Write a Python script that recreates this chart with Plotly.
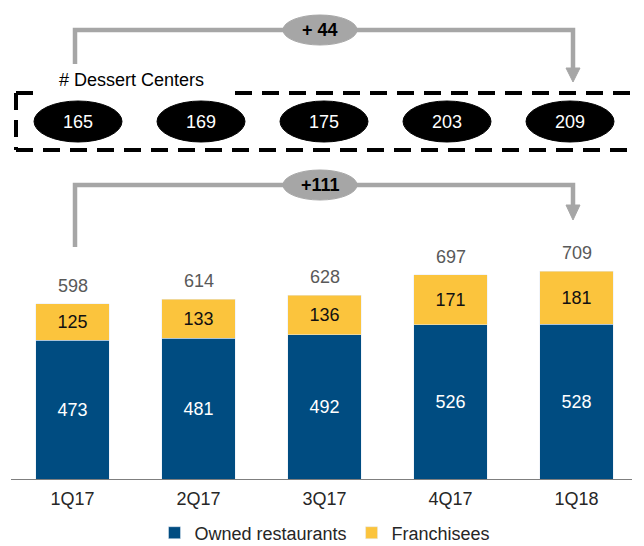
import plotly.graph_objects as go

quarters = ["1Q17", "2Q17", "3Q17", "4Q17", "1Q18"]
owned = [473, 481, 492, 526, 528]
franchisees = [125, 133, 136, 171, 181]
totals = [598, 614, 628, 697, 709]
dessert_centers = [165, 169, 175, 203, 209]
dessert_growth = "+ 44"
store_growth = "+111"

BLUE = "#004C81"
YELLOW = "#FBC43D"
GRAY = "#A6A6A6"
FONT = "Liberation Sans, Arial, sans-serif"

# page body adds an 8px margin; the figure is sized to fill the rest of the window
OFF = 8
W, H = 644 - OFF, 546 - OFF
# plot area in reference-window pixels
PL, PR, PB = 11, 632, 479
PT = OFF
PW, PH = PR - PL, PB - PT


def xp(p):
    return (p - PL) / PW


def yp(p):
    return (PB - p) / PH


xs = list(range(len(quarters)))

fig = go.Figure()
fig.add_trace(go.Bar(
    x=xs, y=owned, name="Owned restaurants", marker_color=BLUE, width=0.585,
    text=owned, textposition="inside", insidetextanchor="middle",
    textfont=dict(color="white", size=18, family=FONT), textangle=0,
))
fig.add_trace(go.Bar(
    x=xs, y=franchisees, name="Franchisees", marker_color=YELLOW, width=0.585,
    text=franchisees, textposition="inside", insidetextanchor="middle",
    textfont=dict(color="#111111", size=18, family=FONT), textangle=0,
))

annotations = []
for x, t in zip(xs, totals):
    annotations.append(dict(x=x, y=t, xref="x", yref="y", text=str(t), showarrow=False,
                            yanchor="bottom", yshift=6,
                            font=dict(size=18, color="#595959", family=FONT)))

shapes = []
# dessert center ovals
for i, v in enumerate(dessert_centers):
    cx = 78 + 123 * i
    shapes.append(dict(type="circle", xref="paper", yref="paper", x0=xp(cx - 44), x1=xp(cx + 44),
                       y0=yp(142), y1=yp(101), fillcolor="black", line=dict(color="black", width=1)))
    annotations.append(dict(x=xp(cx), y=yp(122), xref="paper", yref="paper", text=str(v), showarrow=False,
                            xanchor="center", yanchor="middle",
                            font=dict(size=18, color="white", family=FONT)))

# dashed box (with gap for its label)
dash = dict(color="black", width=4, dash="17px,10px")
box_l, box_r, box_t, box_b = 16, 641, 93, 150
for (x0, y0, x1, y1) in [(box_l, box_t, 43, box_t), (235, box_t, box_r, box_t),
                         (box_l, box_b, box_r, box_b), (box_l, box_t, box_l, box_b),
                         (box_r, box_t, box_r, box_b)]:
    shapes.append(dict(type="line", xref="paper", yref="paper",
                       x0=xp(x0), x1=xp(x1), y0=yp(y0), y1=yp(y1), line=dash))
annotations.append(dict(x=xp(57), y=yp(80), xref="paper", yref="paper", xanchor="left", yanchor="middle",
                        text="# Dessert Centers", showarrow=False,
                        font=dict(size=18, color="black", family=FONT)))


def bracket(ytop, yleft, ybase, ytip, label):
    g = dict(color=GRAY, width=4.5)
    xl, xr = 75, 573
    shapes.append(dict(type="path", xref="paper", yref="paper",
                       path=f"M {xp(xl)} {yp(yleft)} L {xp(xl)} {yp(ytop)} L {xp(xr)} {yp(ytop)} L {xp(xr)} {yp(ybase)}",
                       line=g))
    shapes.append(dict(type="path", xref="paper", yref="paper",
                       path=f"M {xp(xr - 7)} {yp(ybase)} L {xp(xr + 7)} {yp(ybase)} L {xp(xr)} {yp(ytip)} Z",
                       fillcolor=GRAY, line=dict(color=GRAY, width=1)))
    cx = 320
    shapes.append(dict(type="circle", xref="paper", yref="paper", x0=xp(cx - 37), x1=xp(cx + 37),
                       y0=yp(ytop + 15), y1=yp(ytop - 15), fillcolor=GRAY, line=dict(color=GRAY, width=1)))
    annotations.append(dict(x=xp(cx), y=yp(ytop), xref="paper", yref="paper", text=f"<b>{label}</b>",
                            showarrow=False, xanchor="center", yanchor="middle",
                            font=dict(size=18, color="black", family=FONT)))


bracket(30, 64, 68, 82, dessert_growth)
bracket(185, 247, 205, 220, store_growth)

fig.update_layout(
    width=W, height=H, barmode="stack",
    margin=dict(l=PL - OFF, r=W - (PR - OFF), t=PT - OFF, b=H - (PB - OFF), pad=0),
    plot_bgcolor="white", paper_bgcolor="white",
    font=dict(family=FONT, size=18, color="#262626"),
    xaxis=dict(range=[(PL - 72.5) / 126, (PR - 72.5) / 126], tickvals=xs, ticktext=quarters, showline=True,
               linecolor="#7F7F7F", linewidth=1, showgrid=False, zeroline=False,
               ticks="outside", ticklen=3, tickcolor="rgba(0,0,0,0)",
               tickfont=dict(size=18, color="#262626", family=FONT)),
    yaxis=dict(range=[0, PH / 0.293], visible=False, showgrid=False),
    legend=dict(orientation="h", xref="container", yref="container",
                x=(325 - OFF) / W, xanchor="center", y=(H - (533 - OFF)) / H, yanchor="middle",
                font=dict(size=18, color="#262626", family=FONT), itemwidth=30,
                traceorder="normal"),
    showlegend=True,
    shapes=shapes, annotations=annotations,
)

fig.write_html("out.html")
